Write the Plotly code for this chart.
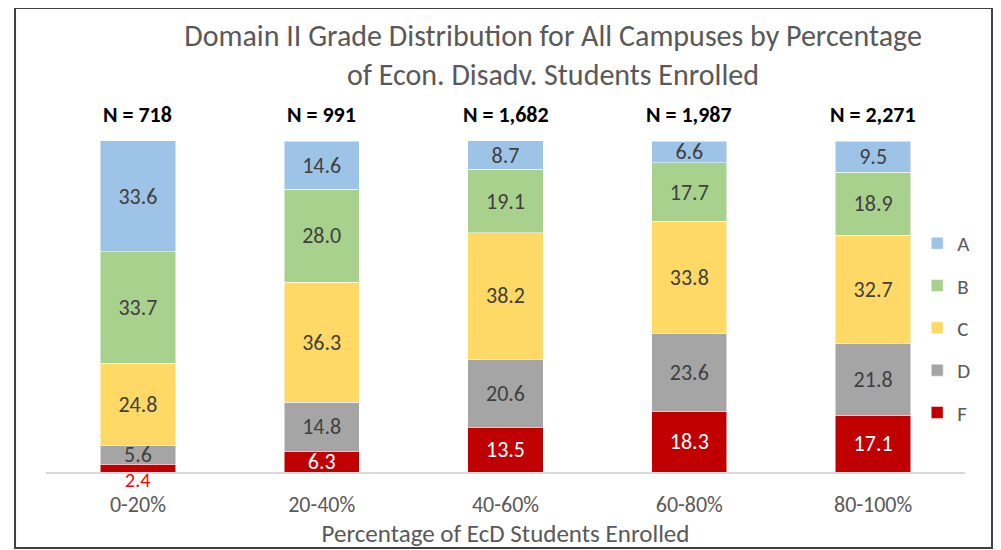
import plotly.graph_objects as go

categories = ["0-20%", "20-40%", "40-60%", "60-80%", "80-100%"]
n_labels = ["N = 718", "N = 991", "N = 1,682", "N = 1,987", "N = 2,271"]
grade_F = [2.4, 6.3, 13.5, 18.3, 17.1]
grade_D = [5.6, 14.8, 20.6, 23.6, 21.8]
grade_C = [24.8, 36.3, 38.2, 33.8, 32.7]
grade_B = [33.7, 28.0, 19.1, 17.7, 18.9]
grade_A = [33.6, 14.6, 8.7, 6.6, 9.5]

FONT = "Carlito, Lato, sans-serif"

# (name, values, fill colour, label colour, legend rank)
series = [
    ("F", grade_F, "#C00000", "white", 5),
    ("D", grade_D, "#A5A5A5", "#404040", 4),
    ("C", grade_C, "#FFD966", "#404040", 3),
    ("B", grade_B, "#A9D18E", "#404040", 2),
    ("A", grade_A, "#9DC3E6", "#404040", 1),
]

fig = go.Figure()
for name, vals, color, tcolor, rank in series:
    texts = [f"{v:.1f}" for v in vals]
    if name == "F":
        # the tiny first segment gets its label below the axis instead
        texts = ["" if v < 3 else t for v, t in zip(vals, texts)]
    fig.add_trace(go.Bar(
        x=categories, y=vals, name=name, legendgroup=name, legendrank=rank,
        marker=dict(color=color, line=dict(color="white", width=0.5)),
        text=texts, textposition="inside", insidetextanchor="middle",
        textangle=0, constraintext="none",
        textfont=dict(family=FONT, size=22, color=tcolor),
        hoverinfo="skip",
    ))

# small F value shown below axis in red
for c, v in zip(categories, grade_F):
    if v < 3:
        fig.add_annotation(x=c, y=0, text=f"{v:.1f}", showarrow=False,
                           yanchor="top", yshift=5, borderpad=0,
                           font=dict(family=FONT, size=20, color="#FF0000"))

# N labels above bars
for c, n in zip(categories, n_labels):
    fig.add_annotation(x=c, y=1, yref="paper", text=f"<b>{n}</b>", showarrow=False,
                       yanchor="middle", yshift=27,
                       font=dict(family=FONT, size=22, color="black"))

# outer border
fig.add_shape(type="rect", xref="paper", yref="paper",
              x0=-0.0337, x1=1.0294, y0=-0.2296, y1=1.4018,
              line=dict(color="#404040", width=2), fillcolor="rgba(0,0,0,0)", layer="below")

fig.update_layout(
    width=1001, height=550,
    margin=dict(l=38, r=44, t=133, b=86),
    barmode="stack", bargap=0.59,
    plot_bgcolor="white", paper_bgcolor="white",
    title=dict(text="Domain II Grade Distribution for All Campuses by Percentage<br>of Econ. Disadv. Students Enrolled",
               x=0.5445, xanchor="center", y=0.931, yanchor="middle", yref="container",
               font=dict(family=FONT, size=30, color="#595959")),
    showlegend=True,
    legend=dict(traceorder="grouped", tracegroupgap=12,
                x=0.948, xanchor="left", y=0.752, yanchor="top",
                font=dict(family=FONT, size=21, color="#595959"),
                bgcolor="rgba(0,0,0,0)", itemwidth=30),
    xaxis=dict(showline=True, linecolor="#D9D9D9", linewidth=1.5, ticks="",
               ticklabelstandoff=12,
               tickfont=dict(family=FONT, size=22, color="#595959"),
               title=dict(text="Percentage of EcD Students Enrolled", standoff=4,
                          font=dict(family=FONT, size=25, color="#595959"))),
    yaxis=dict(range=[0, 100], visible=False, showgrid=False, zeroline=False),
)

fig.write_html("out.html")
